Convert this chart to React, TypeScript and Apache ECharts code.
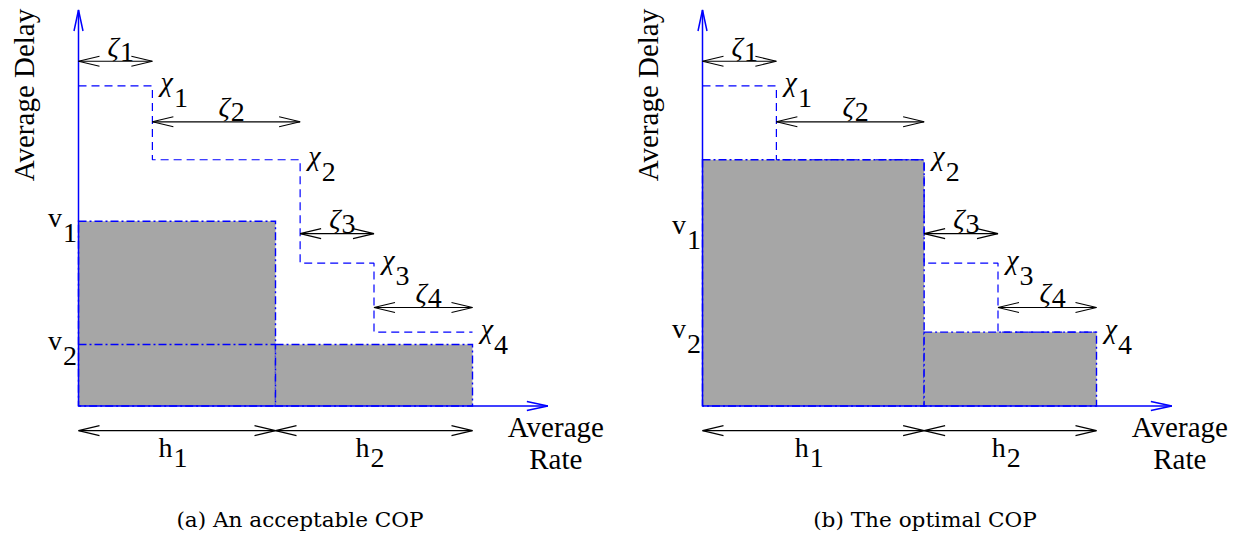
import { useEffect, useRef } from "react";
import * as echarts from "echarts";

// ---------- data ----------
const zetaWidths = [1.5, 3.0, 1.5, 2.0];
const chiLevels = [6.5, 5.0, 2.9, 1.5];
const zetaArrowLevels = [7.0, 5.77, 3.5, 2.0];
const hArrowLevel = -0.5;
const axisEndX = 9.53;
const axisEndY = 8.04;

const panelAWidths = [4.0, 4.0];
const panelAHeights = [3.75, 1.25];
const panelAVLabelLevels = [3.75, 1.25];
const panelAExtraLines = [[0, 4.0, 1.25]];

const panelBWidths = [4.5, 3.5];
const panelBHeights = [5.0, 1.5];
const panelBVLabelLevels = [3.6, 1.5];
const panelBExtraLines: number[][] = [];

const captions = ["(a) An acceptable COP", "(b) The optimal COP"];
const subscripts = ["1", "2", "3", "4"];
const xAxisName = ["Average", "Rate"];
const yAxisName = "Average Delay";

// ---------- styles ----------
const BLUE = "#0000ff";
const GRAY = "#a6a6a6";
const FONT_FAMILY = "Liberation Serif";
const UNIT = 49.25;

type Part = { text: string; dx: number; dy: number; italic?: boolean; rotate?: number; align?: string; size?: number };
type Label = { pos: number[]; parts: Part[] };

function head(tip: number[], from: number[], len = 21, half = 5) {
  const vx = tip[0] - from[0];
  const vy = tip[1] - from[1];
  const d = Math.hypot(vx, vy) || 1;
  const ux = vx / d, uy = vy / d;
  const bx = tip[0] - ux * len, by = tip[1] - uy * len;
  const nx = -uy, ny = ux;
  return [
    [bx + nx * half, by + ny * half],
    [tip[0], tip[1]],
    [bx - nx * half, by - ny * half],
  ];
}

// main glyph right-aligned before the junction, subscript left-aligned after it
function pair(main: string, sub: string, jx: number, mdy: number, sdy: number, italic = false): Part[] {
  return [
    { text: main, dx: jx - 0.5, dy: mdy, italic, align: "right" },
    { text: sub, dx: jx + 0.5, dy: sdy, align: "left" },
  ];
}

function buildPanel(gi: number, widths: number[], heights: number[], vLevels: number[], extra: number[][]) {
  const cum: number[] = [];
  let s = 0;
  zetaWidths.forEach((w) => { s += w; cum.push(s); });
  const stepPts: number[][] = [[0, chiLevels[0]]];
  chiLevels.forEach((c, i) => {
    stepPts.push([cum[i], c]);
    if (i < chiLevels.length - 1) stepPts.push([cum[i], chiLevels[i + 1]]);
  });

  const rects = [
    [0, widths[0], heights[0]],
    [widths[0], widths[0] + widths[1], heights[1]],
  ];
  const dArrows: number[][] = [];
  zetaWidths.forEach((w, i) => dArrows.push([cum[i] - w, cum[i], zetaArrowLevels[i]]));
  dArrows.push([0, widths[0], hArrowLevel]);
  dArrows.push([widths[0], widths[0] + widths[1], hArrowLevel]);

  const labels: Label[] = [];
  chiLevels.forEach((c, i) =>
    labels.push({ pos: [cum[i], c], parts: pair("χ", subscripts[i], 21, -4, 12, true) })
  );
  zetaWidths.forEach((w, i) =>
    labels.push({ pos: [cum[i] - w / 2, zetaArrowLevels[i]], parts: pair("ζ", subscripts[i], 4, -15, -10, true) })
  );
  vLevels.forEach((v, i) =>
    labels.push({ pos: [0, v], parts: pair("v", subscripts[i], -16, -4, 11) })
  );
  let hx = 0;
  widths.forEach((w, i) => {
    labels.push({ pos: [hx + w / 2, hArrowLevel], parts: pair("h", subscripts[i], -4, 17, 27) });
    hx += w;
  });
  labels.push({ pos: [axisEndX, 0], parts: [
    { text: xAxisName[0], dx: 8, dy: 20.5, size: 29 },
    { text: xAxisName[1], dx: 8, dy: 53, size: 29 },
  ] });
  labels.push({ pos: [0, axisEndY], parts: [
    { text: yAxisName, dx: -55, dy: 85, rotate: Math.PI / 2, size: 29 },
  ] });

  const base = { xAxisIndex: gi, yAxisIndex: gi, silent: true };

  return [
    {
      ...base, type: "custom", z: 1,
      data: rects,
      renderItem: (_p: any, api: any) => {
        const a = api.coord([api.value(0), 0]);
        const b = api.coord([api.value(1), api.value(2)]);
        return {
          type: "rect",
          shape: { x: a[0], y: b[1], width: b[0] - a[0], height: a[1] - b[1] },
          style: { fill: GRAY, stroke: BLUE, lineWidth: 1.4, lineDash: [8, 3, 2, 3] },
        };
      },
    },
    {
      ...base, type: "custom", z: 2,
      data: extra,
      renderItem: (_p: any, api: any) => {
        const a = api.coord([api.value(0), api.value(2)]);
        const b = api.coord([api.value(1), api.value(2)]);
        return {
          type: "line",
          shape: { x1: a[0], y1: a[1], x2: b[0], y2: b[1] },
          style: { stroke: BLUE, lineWidth: 1.4, lineDash: [8, 3, 2, 3] },
        };
      },
    },
    {
      ...base, type: "line", z: 3,
      data: stepPts,
      symbol: "none",
      lineStyle: { color: BLUE, width: 1.2, type: [8, 5] },
    },
    {
      ...base, type: "custom", z: 4,
      data: [[0, 0, axisEndX, 0], [0, 0, 0, axisEndY]],
      renderItem: (_p: any, api: any) => {
        const a = api.coord([api.value(0), api.value(1)]);
        const b = api.coord([api.value(2), api.value(3)]);
        return {
          type: "group",
          children: [
            { type: "line", shape: { x1: a[0], y1: a[1], x2: b[0], y2: b[1] }, style: { stroke: BLUE, lineWidth: 1.5 } },
            { type: "polyline", shape: { points: head(b, a, 21, 4.5) }, style: { stroke: BLUE, lineWidth: 1.5, fill: null } },
          ],
        };
      },
    },
    {
      ...base, type: "custom", z: 4,
      data: dArrows,
      renderItem: (_p: any, api: any) => {
        const a = api.coord([api.value(0), api.value(2)]);
        const b = api.coord([api.value(1), api.value(2)]);
        const st = { stroke: "#000", lineWidth: 1.1, fill: null };
        return {
          type: "group",
          children: [
            { type: "line", shape: { x1: a[0], y1: a[1], x2: b[0], y2: b[1] }, style: st },
            { type: "polyline", shape: { points: head(b, a) }, style: st },
            { type: "polyline", shape: { points: head(a, b) }, style: st },
          ],
        };
      },
    },
    {
      ...base, type: "custom", z: 5,
      data: labels.map((l) => l.pos),
      renderItem: (params: any, api: any) => {
        const l = labels[params.dataIndex];
        const p = api.coord([api.value(0), api.value(1)]);
        return {
          type: "group",
          children: l.parts.map((pt) => ({
            type: "text",
            x: p[0] + pt.dx,
            y: p[1] + pt.dy,
            rotation: pt.rotate || 0,
            style: {
              text: pt.text,
              fill: "#000",
              fontFamily: FONT_FAMILY,
              fontSize: pt.size || 28,
              fontStyle: pt.italic ? "italic" : "normal",
              align: pt.align || "center",
              verticalAlign: "middle",
              textAlign: pt.align || "center",
              textVerticalAlign: "middle",
            },
          })),
        };
      },
    },
  ];
}

export default function App() {
  const ref = useRef<HTMLDivElement>(null);
  useEffect(() => {
    if (!ref.current) return;
    const chart = echarts.init(ref.current, null, { renderer: "svg" });
    const originX = [78.5, 702.5];
    const originY = 406;
    const xMin = -1, xMax = 10.5, yMin = -2, yMax = 8.2;
    const grids = originX.map((ox) => ({
      left: ox - (0 - xMin) * UNIT,
      top: originY - yMax * UNIT,
      width: (xMax - xMin) * UNIT,
      height: (yMax - yMin) * UNIT,
      containLabel: false,
      outerBoundsMode: "none",
    }));
    const option: any = {
      animation: false,
      backgroundColor: "#fff",
      grid: grids,
      xAxis: grids.map((_, i) => ({ type: "value", gridIndex: i, min: xMin, max: xMax, show: false })),
      yAxis: grids.map((_, i) => ({ type: "value", gridIndex: i, min: yMin, max: yMax, show: false })),
      graphic: captions.map((c, i) => ({
        type: "text",
        x: [300, 925][i],
        y: 520,
        scaleX: 1.08,
        style: {
          text: c,
          fill: "#000",
          fontFamily: "DejaVu Serif",
          fontSize: 20,
          align: "center",
          verticalAlign: "middle",
          textAlign: "center",
          textVerticalAlign: "middle",
        },
      })),
      series: [
        ...buildPanel(0, panelAWidths, panelAHeights, panelAVLabelLevels, panelAExtraLines),
        ...buildPanel(1, panelBWidths, panelBHeights, panelBVLabelLevels, panelBExtraLines),
      ],
    };
    chart.setOption(option);
    return () => chart.dispose();
  }, []);
  return (
    <div
      ref={ref}
      style={{ position: "fixed", left: 0, top: 0, width: 1240, height: 535, background: "#fff" }}
    />
  );
}
